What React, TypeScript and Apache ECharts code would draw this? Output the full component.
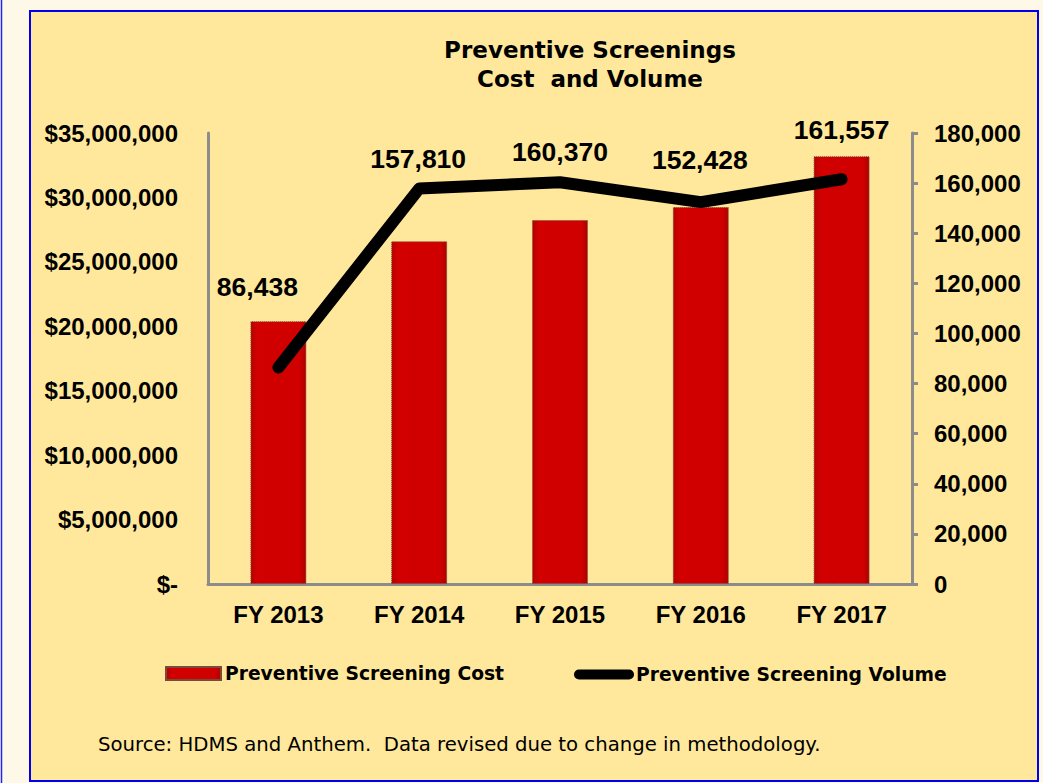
import React, { useEffect, useRef } from "react";
import * as echarts from "echarts";

const categories = ["FY 2013", "FY 2014", "FY 2015", "FY 2016", "FY 2017"];
const costValues = [20400000, 26600000, 28250000, 29250000, 33200000];
const volumeValues = [86438, 157810, 160370, 152428, 161557];
const costTicks = { min: 0, max: 35000000, interval: 5000000 };
const volumeTicks = { min: 0, max: 180000, interval: 20000 };
const titleLines = ["Preventive Screenings", "Cost  and Volume"];
const seriesNames = ["Preventive Screening Cost", "Preventive Screening Volume"];
const sourceNote = "Source: HDMS and Anthem.  Data revised due to change in methodology.";

// style: per-label nudges (pixels)
const labelOffsets = [[-21, -67], [-1, -16], [0, -17], [-1, -29], [0, -36]];

const ARIAL = "'Liberation Sans', Arial, sans-serif";
const WIDE = "'DejaVu Sans', sans-serif";

export default function App() {
  const ref = useRef<HTMLDivElement>(null);
  useEffect(() => {
    if (!ref.current) return;
    const chart = echarts.init(ref.current, null, { renderer: "svg" });
    const fmtNum = (v: number) => v.toLocaleString("en-US");
    const option: any = {
      animation: false,
      backgroundColor: "#FEF8E8",
      graphic: [
        {
          type: "line",
          z: -20,
          shape: { x1: 1.5, y1: 0, x2: 1.5, y2: 783 },
          style: { stroke: "#2222ff", lineWidth: 1.5 },
        },
        {
          type: "rect",
          z: -20,
          shape: { x: 30, y: 11, width: 1008, height: 770 },
          style: { fill: "#FFE89B", stroke: "#0000EE", lineWidth: 2 },
        },
        {
          type: "text",
          x: 590,
          y: 35,
          z: 5,
          style: {
            text: titleLines.join("\n"),
            align: "center",
            font: `bold 23px ${WIDE}`,
            lineHeight: 29,
            fill: "#000",
          },
        },
        {
          type: "text",
          x: 98,
          y: 734,
          z: 5,
          style: {
            text: sourceNote,
            font: `19.7px ${WIDE}`,
            fill: "#000",
          },
        },
      ],
      legend: [
        {
          left: 165,
          top: 664,
          padding: 0,
          itemWidth: 55,
          itemHeight: 13,
          itemGap: 5,
          data: [{ name: seriesNames[0], icon: "rect" }],
          textStyle: { fontFamily: WIDE, fontWeight: "bold", fontSize: 18.7, color: "#000", padding: [0, 0, 0, -1] },
        },
        {
          left: 574,
          top: 665,
          padding: 0,
          itemWidth: 60,
          itemHeight: 10,
          data: [{ name: seriesNames[1], icon: "path://M5,0 L55,0 A5,5 0 0 1 55,10 L5,10 A5,5 0 0 1 5,0 Z" }],
          textStyle: { fontFamily: WIDE, fontWeight: "bold", fontSize: 18.7, color: "#000", padding: [0, 0, 0, -3] },
        },
      ],
      grid: { left: 208, right: 131, top: 133, bottom: 199 },
      xAxis: {
        type: "category",
        data: categories,
        axisLine: { show: true, lineStyle: { color: "#8c8c8c", width: 3 } },
        axisTick: { show: false },
        axisLabel: { fontFamily: ARIAL, fontWeight: "bold", fontSize: 24, color: "#000", margin: 18 },
      },
      yAxis: [
        {
          type: "value",
          ...costTicks,
          axisLine: { show: true, lineStyle: { color: "#8c8c8c", width: 3 } },
          axisTick: { show: false },
          splitLine: { show: false },
          axisLabel: {
            fontFamily: ARIAL,
            fontWeight: "bold",
            fontSize: 24,
            color: "#000",
            margin: 30,
            formatter: (v: number) => (v === 0 ? "$-" : "$" + fmtNum(v)),
          },
        },
        {
          type: "value",
          ...volumeTicks,
          position: "right",
          axisLine: { show: true, lineStyle: { color: "#8c8c8c", width: 3 } },
          axisTick: { show: true, length: 6, lineStyle: { color: "#8c8c8c", width: 3 } },
          splitLine: { show: false },
          axisLabel: {
            fontFamily: ARIAL,
            fontWeight: "bold",
            fontSize: 24,
            color: "#000",
            margin: 22,
            formatter: (v: number) => fmtNum(v),
          },
        },
      ],
      series: [
        {
          name: seriesNames[0],
          type: "bar",
          yAxisIndex: 0,
          barWidth: 56,
          data: costValues,
          itemStyle: {
            color: new echarts.graphic.LinearGradient(0, 0, 1, 0, [
              { offset: 0, color: "#B80000" },
              { offset: 0.12, color: "#D20000" },
              { offset: 0.88, color: "#D00000" },
              { offset: 1, color: "#B00000" },
            ]),
            borderColor: "#7a4a3a",
            borderWidth: 1,
            borderType: "dotted",
          },
        },
        {
          name: seriesNames[1],
          type: "line",
          yAxisIndex: 1,
          z: 5,
          symbol: "circle",
          symbolSize: 0.1,
          showSymbol: true,
          data: volumeValues.map((v, i) => ({
            value: v,
            label: { offset: labelOffsets[i] },
          })),
          itemStyle: { color: "#000" },
          lineStyle: { color: "#000", width: 12, cap: "round", join: "round" },
          label: {
            show: true,
            position: "top",
            distance: 0,
            fontFamily: ARIAL,
            fontWeight: "bold",
            fontSize: 26.5,
            color: "#000",
            formatter: (p: any) => fmtNum(p.value),
          },
        },
      ],
    };
    chart.setOption(option);
    return () => chart.dispose();
  }, []);
  return (
    <div
      ref={ref}
      style={{ position: "fixed", left: 0, top: 0, width: 1043, height: 783 }}
    />
  );
}
